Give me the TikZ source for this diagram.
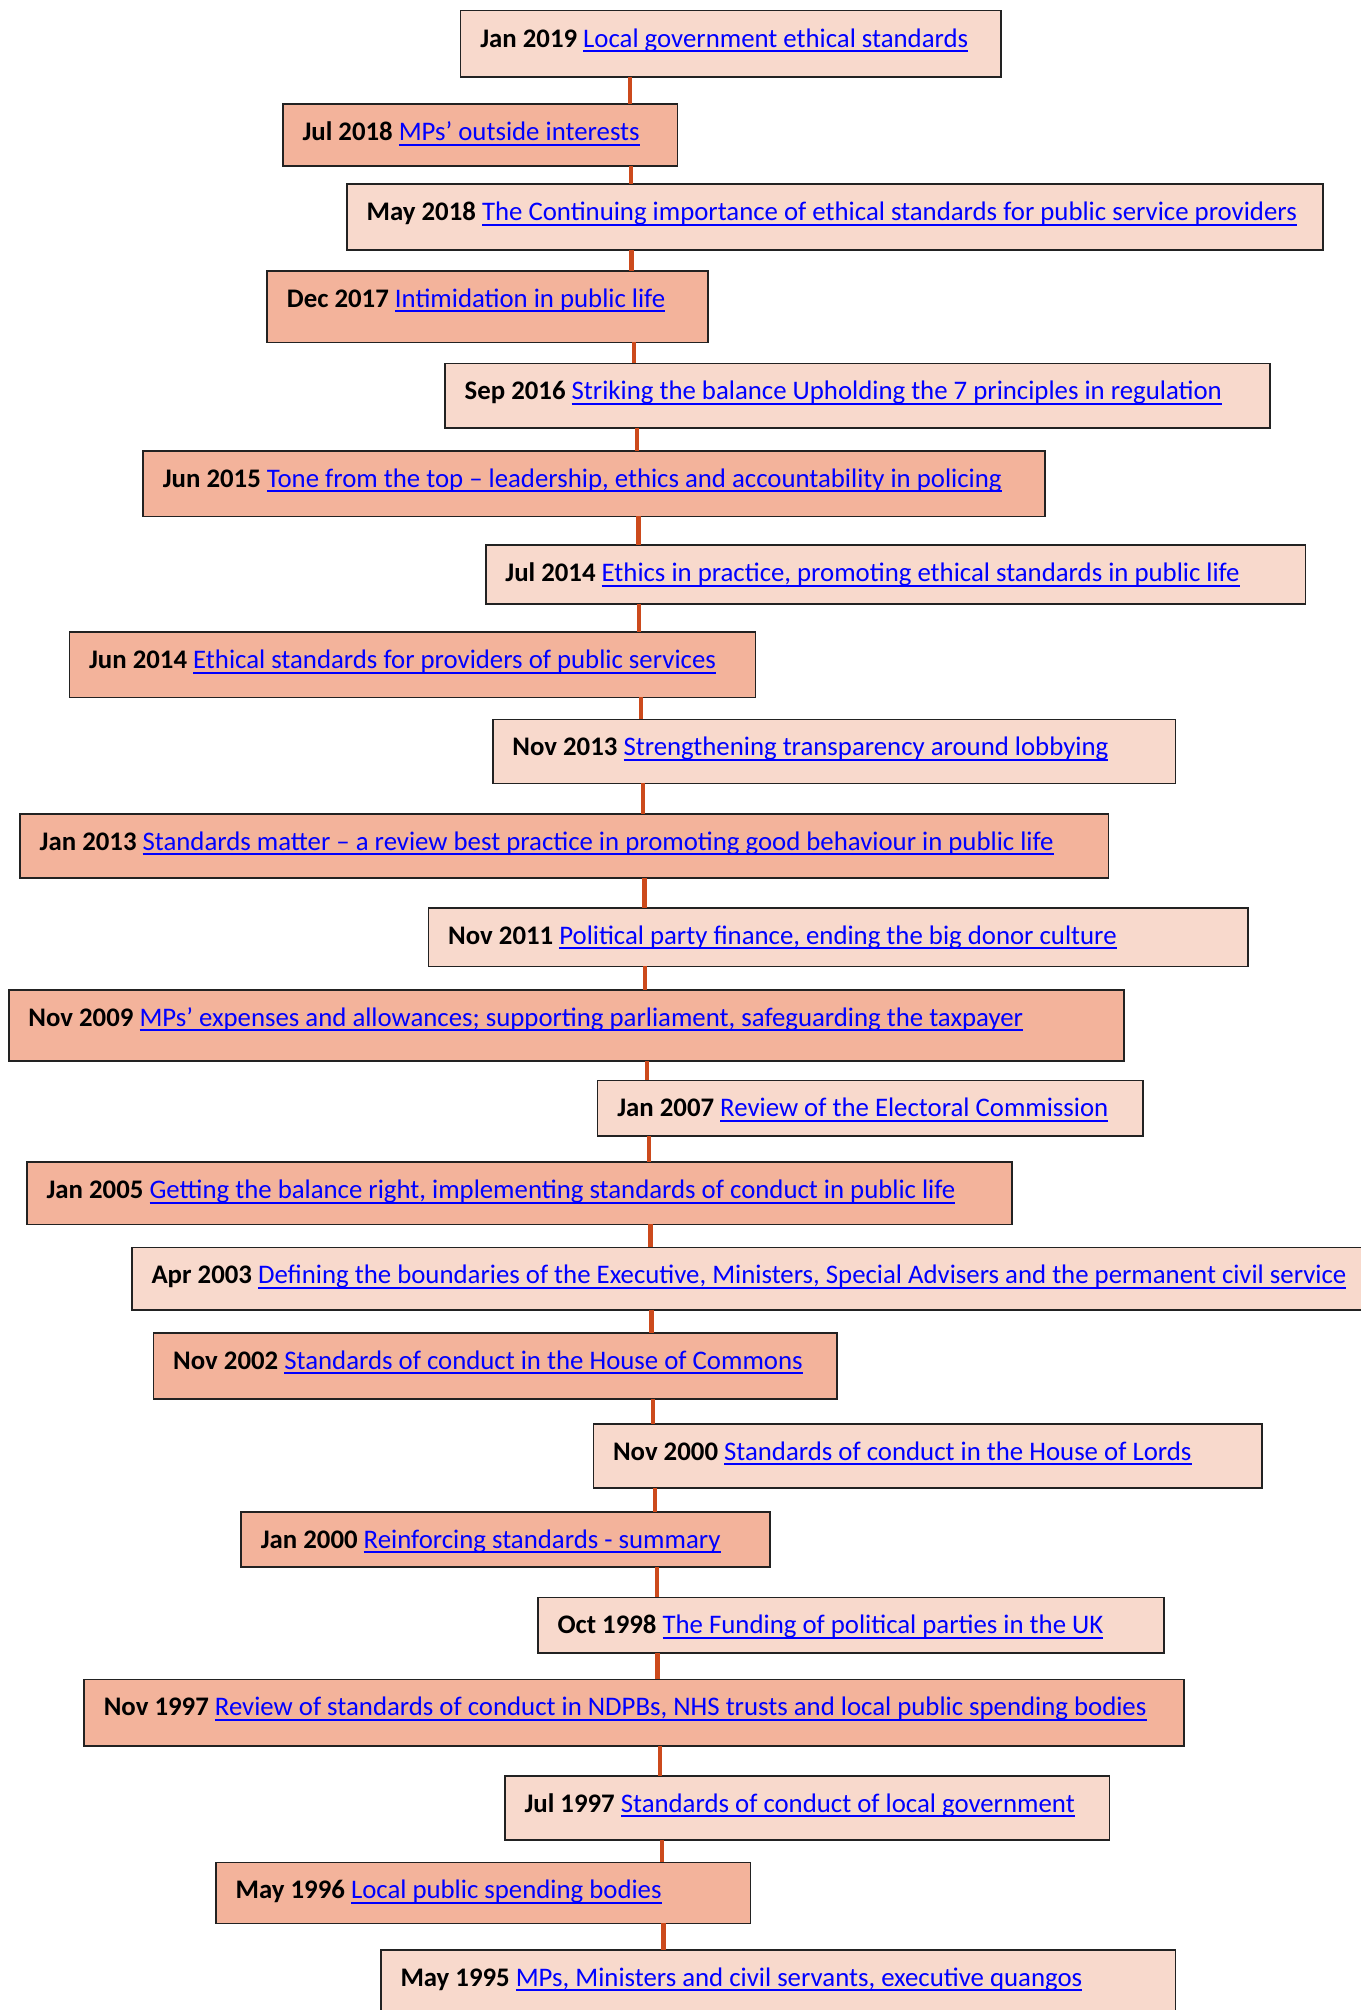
\documentclass[tikz,border=0pt]{standalone}
\usepackage{fontspec}
\setmainfont{Carlito}
\definecolor{lightfill}{HTML}{F8D9CC}
\definecolor{darkfill}{HTML}{F3B39B}
\definecolor{linecol}{HTML}{CC4A1C}
\definecolor{linkblue}{HTML}{0000FF}
\definecolor{edgecol}{HTML}{222222}
\newcommand\lnk[1]{\textcolor{linkblue}{\setbox0=\hbox{#1}\rlap{\rule[-5pt]{\wd0}{1.8pt}}\box0}}
\newcommand\tlentry[8]{%
  \node[#6, anchor=north west, minimum width={#4pt-#2pt}, minimum height={#5pt-#3pt}] (b#1) at (#2,#3) {};
  \node[entrytext] (t#1) at ([shift={(19.5,36.5)}]b#1.north west) {\textbf{#7} \lnk{#8}};
}
\begin{document}
\begin{tikzpicture}[x=1pt,y=-1pt,
  lightbox/.style={draw=edgecol, line width=1.6pt, fill=lightfill, inner sep=0pt, outer sep=0pt},
  darkbox/.style={draw=edgecol, line width=1.6pt, fill=darkfill, inner sep=0pt, outer sep=0pt},
  entrytext/.style={anchor=base west, inner sep=0pt, font=\fontsize{26.8}{32}\selectfont},
  conn/.style={draw=linecol, line width=4.2pt}]
\useasboundingbox (0,0) rectangle (1360,2010);
% connector positions
\coordinate (c1) at (629.7,0);
\coordinate (c2) at (630.6,0);
\coordinate (c3) at (631.4,0);
\coordinate (c4) at (634.0,0);
\coordinate (c5) at (636.6,0);
\coordinate (c6) at (638.4,0);
\coordinate (c7) at (639.2,0);
\coordinate (c8) at (641.0,0);
\coordinate (c9) at (642.7,0);
\coordinate (c10) at (644.5,0);
\coordinate (c11) at (645.3,0);
\coordinate (c12) at (647.1,0);
\coordinate (c13) at (648.8,0);
\coordinate (c14) at (650.5,0);
\coordinate (c15) at (651.4,0);
\coordinate (c16) at (653.1,0);
\coordinate (c17) at (654.9,0);
\coordinate (c18) at (656.6,0);
\coordinate (c19) at (657.5,0);
\coordinate (c20) at (660.1,0);
\coordinate (c21) at (661.8,0);
\coordinate (c22) at (663.5,0);
% boxes
\tlentry{1}{460.6}{10.7}{1001}{76.7}{lightbox}{Jan 2019}{Local government ethical standards}
\tlentry{2}{282.8}{104}{677.4}{166}{darkbox}{Jul 2018}{MPs’ outside interests}
\tlentry{3}{347}{184}{1322.7}{250}{lightbox}{May 2018}{The Continuing importance of ethical standards for public service providers}
\tlentry{4}{267.2}{270.7}{707.8}{342.3}{darkbox}{Dec 2017}{Intimidation in public life}
\tlentry{5}{445}{363.3}{1269.8}{427.7}{lightbox}{Sep 2016}{Striking the balance Upholding the 7 principles in regulation}
\tlentry{6}{143.1}{450.7}{1045.2}{516.3}{darkbox}{Jun 2015}{Tone from the top – leadership, ethics and accountability in policing}
\tlentry{7}{485.7}{545}{1305.4}{603.7}{lightbox}{Jul 2014}{Ethics in practice, promoting ethical standards in public life}
\tlentry{8}{69.4}{632}{755.5}{697.3}{darkbox}{Jun 2014}{Ethical standards for providers of public services}
\tlentry{9}{492.7}{719.3}{1175.3}{783.3}{lightbox}{Nov 2013}{Strengthening transparency around lobbying}
\tlentry{10}{20}{813.7}{1108.5}{877.7}{darkbox}{Jan 2013}{Standards matter – a review best practice in promoting good behaviour in public life}
\tlentry{11}{428.5}{907.7}{1248.2}{966.3}{lightbox}{Nov 2011}{Political party finance, ending the big donor culture}
\tlentry{12}{8.7}{989.7}{1124.1}{1060.7}{darkbox}{Nov 2009}{MPs’ expenses and allowances; supporting parliament, safeguarding the taxpayer}
\tlentry{13}{597.6}{1080.3}{1143.2}{1136}{lightbox}{Jan 2007}{Review of the Electoral Commission}
\tlentry{14}{26.9}{1162}{1012.2}{1224.3}{darkbox}{Jan 2005}{Getting the balance right, implementing standards of conduct in public life}
\tlentry{15}{131.8}{1247.3}{1372}{1309.7}{lightbox}{Apr 2003}{Defining the boundaries of the Executive, Ministers, Special Advisers and the permanent civil service}
\tlentry{16}{153.5}{1332.7}{837}{1398.7}{darkbox}{Nov 2002}{Standards of conduct in the House of Commons}
\tlentry{17}{593.3}{1423.7}{1262}{1487.7}{lightbox}{Nov 2000}{Standards of conduct in the House of Lords}
\tlentry{18}{241.1}{1511.7}{770.2}{1567}{darkbox}{Jan 2000}{Reinforcing standards - summary}
\tlentry{19}{537.8}{1597.3}{1164}{1653}{lightbox}{Oct 1998}{The Funding of political parties in the UK}
\tlentry{20}{84.1}{1679.3}{1184}{1745.7}{darkbox}{Nov 1997}{Review of standards of conduct in NDPBs, NHS trusts and local public spending bodies}
\tlentry{21}{504.8}{1775.7}{1109.4}{1839.7}{lightbox}{Jul 1997}{Standards of conduct of local government}
\tlentry{22}{216}{1862.3}{750.3}{1923.3}{darkbox}{May 1996}{Local public spending bodies}
\tlentry{23}{380.8}{1949.7}{1175.3}{2018}{lightbox}{May 1995}{MPs, Ministers and civil servants, executive quangos}
% connectors
\draw[conn] (b1.south -| c1) -- (b2.north -| c1);
\draw[conn] (b2.south -| c2) -- (b3.north -| c2);
\draw[conn] (b3.south -| c3) -- (b4.north -| c3);
\draw[conn] (b4.south -| c4) -- (b5.north -| c4);
\draw[conn] (b5.south -| c5) -- (b6.north -| c5);
\draw[conn] (b6.south -| c6) -- (b7.north -| c6);
\draw[conn] (b7.south -| c7) -- (b8.north -| c7);
\draw[conn] (b8.south -| c8) -- (b9.north -| c8);
\draw[conn] (b9.south -| c9) -- (b10.north -| c9);
\draw[conn] (b10.south -| c10) -- (b11.north -| c10);
\draw[conn] (b11.south -| c11) -- (b12.north -| c11);
\draw[conn] (b12.south -| c12) -- (b13.north -| c12);
\draw[conn] (b13.south -| c13) -- (b14.north -| c13);
\draw[conn] (b14.south -| c14) -- (b15.north -| c14);
\draw[conn] (b15.south -| c15) -- (b16.north -| c15);
\draw[conn] (b16.south -| c16) -- (b17.north -| c16);
\draw[conn] (b17.south -| c17) -- (b18.north -| c17);
\draw[conn] (b18.south -| c18) -- (b19.north -| c18);
\draw[conn] (b19.south -| c19) -- (b20.north -| c19);
\draw[conn] (b20.south -| c20) -- (b21.north -| c20);
\draw[conn] (b21.south -| c21) -- (b22.north -| c21);
\draw[conn] (b22.south -| c22) -- (b23.north -| c22);
\end{tikzpicture}
\end{document}
